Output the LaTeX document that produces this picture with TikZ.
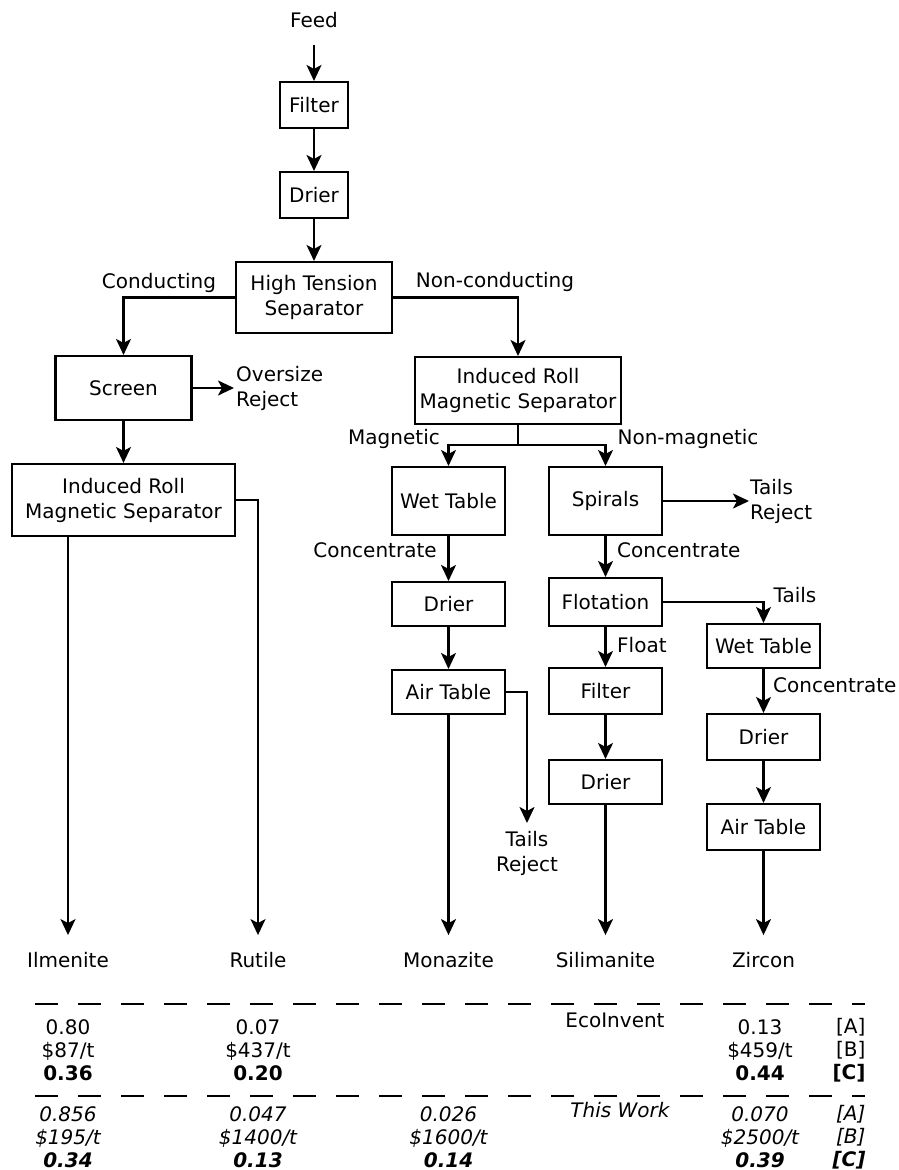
\documentclass[tikz,border=0pt]{standalone}
\usepackage{fontspec}
\setmainfont{DejaVu Sans}
\usetikzlibrary{arrows.meta}

\begin{document}
\begin{tikzpicture}[x=1pt, y=-1pt,
	font=\fontsize{20}{25}\selectfont,
	unit/.style={draw, line width=2.1pt, align=center, inner sep=0pt},
	flow/.style={line width=2.1pt, -{Stealth[length=16pt, width=15pt, inset=4pt]}},
	pipe/.style={line width=2.1pt},
	prod/.style={inner ysep=17pt},
	lbl/.style={inner sep=0pt},
	cell/.style={align=center, font=\fontsize{20}{23}\selectfont},
	sep/.style={line width=2.1pt, dash pattern=on 23pt off 20pt}]
	\useasboundingbox (0,0) rectangle (899,1170);
	
	\node[prod] (feed) at (314,20) {Feed};
	\node[unit, minimum width=68pt, minimum height=46pt] (filter) at (314,105) {Filter};
	\node[unit, minimum width=68pt, minimum height=46pt] (drier) at (314,195) {Drier};
	\node[unit, minimum width=156pt, minimum height=71pt] (hts) at (314,297.5) {High Tension\\Separator};
	\node[lbl] (cond) at (159,283) {Conducting};
	\node[lbl] (noncond) at (495,282) {Non-conducting};
	
	% conducting side
	\node[unit, minimum width=136pt, minimum height=64pt] (screen) at (123.5,388) {Screen};
	\node[anchor=west, align=left, inner xsep=2pt] (oversize) at (234,388) {Oversize\\Reject};
	\node[unit, minimum width=223pt, minimum height=72pt] (irmsA) at (123.5,500) {Induced Roll\\Magnetic Separator};
	
	% non-conducting side
	\node[unit, minimum width=206pt, minimum height=67pt] (irmsB) at (518,390.5) {Induced Roll\\Magnetic Separator};
	\coordinate (split) at (518,445);
	\node[lbl] (mag) at (394,439) {Magnetic};
	\node[lbl] (nonmag) at (688,439) {Non-magnetic};
	\node[unit, minimum width=113pt, minimum height=68pt] (wet) at (448.5,501) {Wet Table};
	\node[unit, minimum width=113pt, minimum height=68pt] (spiral) at (605.5,501) {Spirals};
	\node[anchor=west, align=left, inner xsep=1pt] (tailsA) at (749,501) {Tails\\Reject};
	\node[lbl] (concM) at (375,550) {Concentrate};
	\node[lbl, anchor=west] (concS) at (617,550) {Concentrate};
	\node[unit, minimum width=113pt, minimum height=44pt] (drierM) at (448.5,604) {Drier};
	\node[unit, minimum width=113pt, minimum height=44pt] (airM) at (448.5,692) {Air Table};
	\node[anchor=north, align=center, inner sep=8pt] (tailsB) at (527,823) {Tails\\Reject};
	\node[unit, minimum width=113pt, minimum height=48pt] (flot) at (605.5,602) {Flotation};
	\node[lbl] (tailsC) at (795,595) {Tails};
	\node[lbl, anchor=west] (float) at (617,645) {Float};
	\node[unit, minimum width=113pt, minimum height=46pt] (filterS) at (605.5,691) {Filter};
	\node[unit, minimum width=113pt, minimum height=44pt] (drierS) at (605.5,782) {Drier};
	\node[unit, minimum width=113pt, minimum height=44pt] (wetZ) at (763.5,646) {Wet Table};
	\node[lbl, anchor=west] (concZ) at (773,685) {Concentrate};
	\node[unit, minimum width=113pt, minimum height=46pt] (drierZ) at (763.5,737) {Drier};
	\node[unit, minimum width=113pt, minimum height=46pt] (airZ) at (763.5,827) {Air Table};
	
	% products
	\node[prod] (ilm) at (68,960) {Ilmenite};
	\node[prod] (rut) at (258,960) {Rutile};
	\node[prod] (mon) at (448.5,960) {Monazite};
	\node[prod] (sil) at (605.5,960) {Silimanite};
	\node[prod] (zir) at (763.5,960) {Zircon};
	
	\draw[flow] (feed) -- (filter);
	\draw[flow] (filter) -- (drier);
	\draw[flow] (drier) -- (hts);
	\draw[flow] (hts.west) -| (screen);
	\draw[flow] (hts.east) -| (irmsB);
	\draw[flow] (screen) -- (oversize);
	\draw[flow] (screen) -- (irmsA);
	\draw[flow] (irmsA.south -| ilm) -- (ilm);
	\draw[flow] (irmsA.east) -| (rut);
	\draw[pipe] (irmsB) -- (split);
	\draw[flow] (split) -| (wet);
	\draw[flow] (split) -| (spiral);
	\draw[flow] (spiral) -- (tailsA);
	\draw[flow] (wet) -- (drierM);
	\draw[flow] (drierM) -- (airM);
	\draw[flow] (airM) -- (mon);
	\draw[flow] (airM.east) -| (tailsB);
	\draw[flow] (spiral) -- (flot);
	\draw[flow] (flot.east) -| (wetZ);
	\draw[flow] (flot) -- (filterS);
	\draw[flow] (filterS) -- (drierS);
	\draw[flow] (drierS) -- (sil);
	\draw[flow] (wetZ) -- (drierZ);
	\draw[flow] (drierZ) -- (airZ);
	\draw[flow] (airZ) -- (zir);
	
	% factor table
	\draw[sep] (35,1004) -- (865,1004);
	\draw[sep] (35,1096) -- (865,1096);
	\node[lbl] (eco) at (615,1020) {EcoInvent};
	\node[lbl, font=\fontsize{20}{25}\selectfont\itshape] (work) at (620,1110) {This Work};
	\node[cell] (ilmE) at (68,1050) {0.80\\\$87/t\\\textbf{0.36}};
	\node[cell] (rutE) at (258,1050) {0.07\\\$437/t\\\textbf{0.20}};
	\node[cell] (zirE) at (760,1050) {0.13\\\$459/t\\\textbf{0.44}};
	\node[cell, align=right, anchor=east] (keyE) at (869,1050) {{[A]}\\{[B]}\\\textbf{[C]}};
	\node[cell, font=\fontsize{20}{23}\selectfont\itshape] (ilmW) at (68,1137) {0.856\\\$195/t\\\textbf{0.34}};
	\node[cell, font=\fontsize{20}{23}\selectfont\itshape] (rutW) at (258,1137) {0.047\\\$1400/t\\\textbf{0.13}};
	\node[cell, font=\fontsize{20}{23}\selectfont\itshape] (monW) at (448.5,1137) {0.026\\\$1600/t\\\textbf{0.14}};
	\node[cell, font=\fontsize{20}{23}\selectfont\itshape] (zirW) at (760,1137) {0.070\\\$2500/t\\\textbf{0.39}};
	\node[cell, align=right, anchor=east, font=\fontsize{20}{23}\selectfont\itshape] (keyW) at (869,1137) {{[A]}\\{[B]}\\\textbf{[C]}};
\end{tikzpicture}
\end{document}
